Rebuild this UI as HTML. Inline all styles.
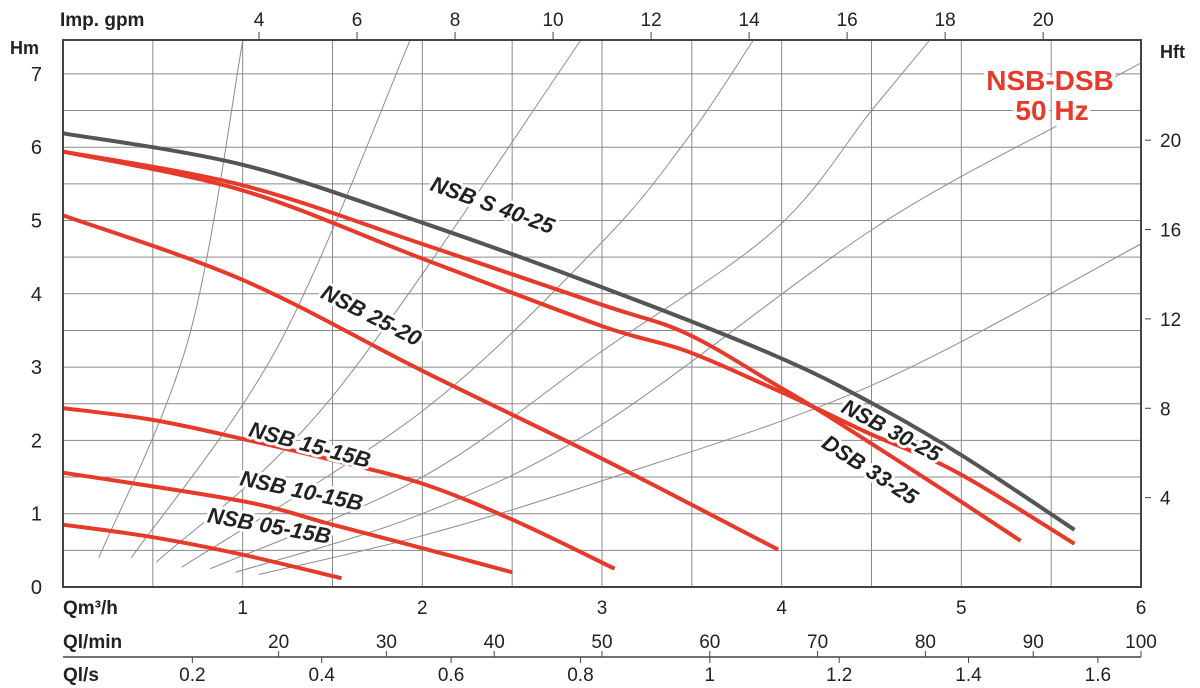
<!DOCTYPE html>
<html><head><meta charset="utf-8"><style>
html,body{margin:0;padding:0;background:#fff}
svg{display:block;font-family:"Liberation Sans",sans-serif}
.lbl{font-size:22px;font-weight:bold;font-style:italic;fill:#222;stroke:#fff;stroke-width:6px;paint-order:stroke;stroke-linejoin:round}
</style></head><body>
<svg id="chart" width="1200" height="688" viewBox="0 0 1200 688">
<g id="grid"></g>
<g id="iso"></g>
<g id="curves"></g>
<g id="labels"></g>
<g id="axes"></g>
<g>
<text x="1050" y="90" text-anchor="middle" font-size="28" font-weight="bold" fill="#e63a2b" stroke="#fff" stroke-width="8" paint-order="stroke">NSB-DSB</text>
<text x="1052" y="120" text-anchor="middle" font-size="28" font-weight="bold" fill="#e63a2b" stroke="#fff" stroke-width="8" paint-order="stroke">50 Hz</text>
</g>
</svg>
<script>
// ---- data ----
const qTicks = [1,2,3,4,5,6];
const hTicks = [0,1,2,3,4,5,6,7];
const gpmTicks = [4,6,8,10,12,14,16,18,20];
const lminTicks = [20,30,40,50,60,70,80,90,100];
const lsTicks = [0.2,0.4,0.6,0.8,1,1.2,1.4,1.6];
const hftTicks = [4,8,12,16,20];
const seriesNames = ["NSB S 40-25","NSB 30-25","DSB 33-25","NSB 25-20","NSB 15-15B","NSB 10-15B","NSB 05-15B"];
const s40Q = [0,1,2,3.0,3.96,4.5,5,5.63];
const s40H = [6.19,5.76,4.97,4.09,3.16,2.51,1.8,0.78];
const n3025Q = [0,1,2,3.0,3.47,3.96,4.26,4.5,4.98,5.63];
const n3025H = [5.94,5.41,4.48,3.56,3.22,2.7,2.36,2.08,1.56,0.59];
const d3325Q = [0,1,2,3.0,3.47,3.96,4.26,4.77,5.33];
const d3325H = [5.94,5.48,4.68,3.85,3.46,2.77,2.33,1.53,0.63];
const n2520Q = [0,1,2,3.0,3.98];
const n2520H = [5.07,4.19,2.95,1.75,0.51];
const n1515Q = [0,0.5,1,1.5,2,2.5,3.07];
const n1515H = [2.44,2.28,2.02,1.73,1.41,0.92,0.25];
const n1015Q = [0,1,1.5,2,2.5];
const n1015H = [1.56,1.17,0.85,0.53,0.2];
const n0515Q = [0,0.5,1,1.55];
const n0515H = [0.85,0.68,0.44,0.12];
const iso1 = [[0.2,0.4],[0.7,3.4],[1.0,7.45]];
const iso2 = [[0.38,0.4],[1.2,3.3],[1.93,7.45]];
const iso3 = [[0.52,0.34],[1.5,2.6],[2.88,7.45]];
const iso4 = [[0.66,0.27],[2.0,2.4],[2.99,4.68],[3.47,6.1],[3.84,7.45]];
const iso5 = [[0.82,0.25],[2.0,1.5],[2.99,3.2],[3.96,4.87],[4.5,6.5],[4.82,7.45]];
const iso6 = [[0.96,0.2],[2.0,1.0],[2.99,2.2],[4.5,4.87],[5.53,6.29]];
const iso7 = [[1.09,0.17],[2.0,0.7],[2.99,1.44],[4.5,2.75],[6.0,4.68]];
const iso8 = [[5.85,6.95],[6.0,7.15]];

// ---- scales ----
const X0=63, X1=1141, Y0=587, YT=40;
const xs = q => X0 + q*(X1-X0)/6;
const ys = h => Y0 - h*73.3;
const NS="http://www.w3.org/2000/svg";
function mk(tag, attrs, parent){const e=document.createElementNS(NS,tag);for(const k in attrs)e.setAttribute(k,attrs[k]);parent.appendChild(e);return e;}
function smooth(pts){
  const p=pts.map(a=>[xs(a[0]),ys(a[1])]);
  let d="M"+p[0][0].toFixed(1)+","+p[0][1].toFixed(1);
  for(let i=0;i<p.length-1;i++){
    const p0=p[i-1]||p[i],p1=p[i],p2=p[i+1],p3=p[i+2]||p2;
    const c1=[p1[0]+(p2[0]-p0[0])/6,p1[1]+(p2[1]-p0[1])/6];
    const c2=[p2[0]-(p3[0]-p1[0])/6,p2[1]-(p3[1]-p1[1])/6];
    d+=" C"+c1.map(v=>v.toFixed(1))+" "+c2.map(v=>v.toFixed(1))+" "+p2.map(v=>v.toFixed(1));
  }
  return d;
}
const zip=(a,b)=>a.map((v,i)=>[v,b[i]]);

const grid=document.getElementById('grid');
for(let q=0.5;q<6;q+=0.5){
  const l=mk('line',{x1:xs(q),x2:xs(q),y1:YT,y2:Y0,stroke:'#8a8a8a','stroke-width':1},grid);
  
  
}
for(let h=0.5;h<=7.01;h+=0.5){
  const l=mk('line',{x1:X0,x2:X1,y1:ys(h),y2:ys(h),stroke:'#8a8a8a','stroke-width':1},grid);
  
  
}
const iso=document.getElementById('iso');
[iso1,iso2,iso3,iso4,iso5,iso6,iso7,iso8].forEach((c,i)=>{
  const p=mk('path',{d:smooth(c),fill:'none',stroke:'#8c8c8c','stroke-width':1},iso);
  
  
});
const curves=document.getElementById('curves');
const sets=[[s40Q,s40H,'#555'],[n3025Q,n3025H,'#e63a2b'],[d3325Q,d3325H,'#e63a2b'],[n2520Q,n2520H,'#e63a2b'],[n1515Q,n1515H,'#e63a2b'],[n1015Q,n1015H,'#e63a2b'],[n0515Q,n0515H,'#e63a2b']];
sets.forEach((s,i)=>{
  const p=mk('path',{d:smooth(zip(s[0],s[1])),fill:'none',stroke:s[2],'stroke-width':4,'stroke-linecap':'butt'},curves);
  
  
});
// labels
const labels=document.getElementById('labels');
const labPos=[[490,212,20],[888,437,28],[866,476,33],[368,322,27],[308,452,15],[300,498,12],[268,533,10]];
labPos.forEach((p,i)=>{
  const t=mk('text',{x:p[0],y:p[1],'text-anchor':'middle','class':'lbl',transform:`rotate(${p[2]} ${p[0]} ${p[1]})`},labels);
  t.textContent=seriesNames[i];
  
  
});
// axes
const axes=document.getElementById('axes');
const fr=mk('rect',{x:X0,y:YT,width:X1-X0,height:Y0-YT,fill:'none',stroke:'#444','stroke-width':2},axes);


function txt(x,y,s,opts){const t=mk('text',Object.assign({x:x,y:y,'font-size':19,fill:'#222'},opts||{}),axes);t.textContent=s;return t;}
let t;
t=txt(10,54,'Hm',{'font-weight':'bold','font-size':18});


hTicks.forEach(h=>{
  const e=txt(42,ys(h)+7,String(h),{'text-anchor':'end','font-size':20});
  
  
});
t=txt(1160,58,'Hft',{'font-weight':'bold','font-size':18});


hftTicks.forEach(f=>{
  const y=ys(f*0.3048);
  const l=mk('line',{x1:X1+4,x2:X1+10,y1:y,y2:y,stroke:'#444','stroke-width':1},axes);
  
  
  const e=txt(1160,y+7,String(f),{'font-size':19});
  
  
});
t=txt(60,26,'Imp. gpm',{'font-weight':'bold','font-size':19});


gpmTicks.forEach(g=>{
  const x=xs(g*0.272765);
  const l=mk('line',{x1:x,x2:x,y1:32,y2:YT,stroke:'#444','stroke-width':1},axes);
  
  
  const e=txt(x,26,String(g),{'text-anchor':'middle','font-size':19});
  
  
});
t=txt(63,614,'Qm³/h',{'font-weight':'bold','font-size':19});


qTicks.forEach(q=>{
  const e=txt(xs(q),614,String(q),{'text-anchor':'middle','font-size':19});
  
  
});
t=txt(63,648,'Ql/min',{'font-weight':'bold','font-size':19});


const bl=mk('line',{x1:X0,x2:X1,y1:657,y2:657,stroke:'#444','stroke-width':1.5},axes);


lminTicks.forEach(v=>{
  const x=xs(v*0.06);
  const l=mk('line',{x1:x,x2:x,y1:651,y2:657,stroke:'#444','stroke-width':1},axes);
  
  
  const e=txt(x,648,String(v),{'text-anchor':'middle','font-size':19});
  
  
});
t=txt(63,681,'Ql/s',{'font-weight':'bold','font-size':19});


lsTicks.forEach(v=>{
  const x=xs(v*3.6);
  const l=mk('line',{x1:x,x2:x,y1:657,y2:663,stroke:'#444','stroke-width':1},axes);
  
  
  const e=txt(x,681,String(v),{'text-anchor':'middle','font-size':19});
  
  
});
</script>
</body></html>
